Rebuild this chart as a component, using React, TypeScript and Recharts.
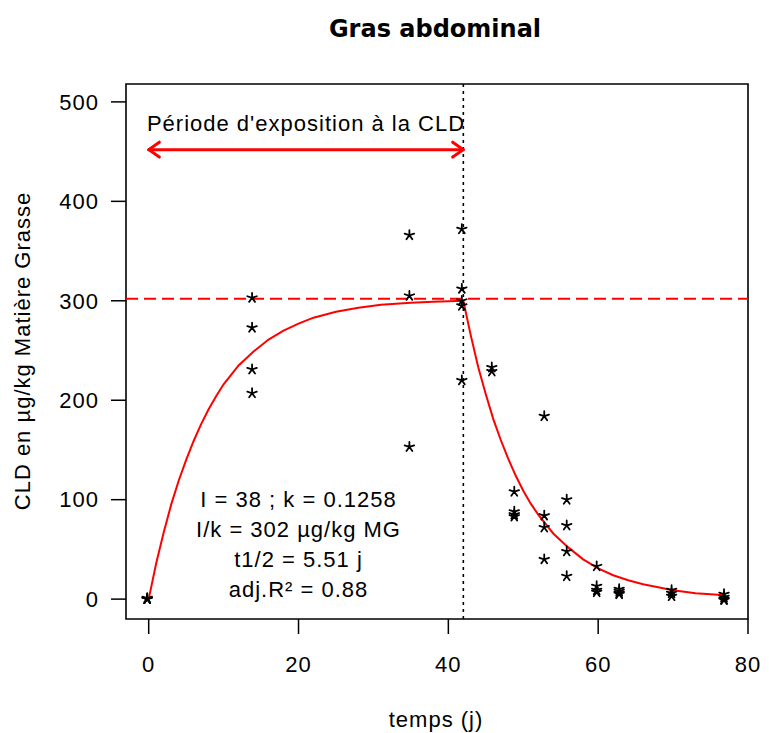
import React from "react";
import {
  ComposedChart,
  Line,
  Scatter,
  XAxis,
  YAxis,
  ReferenceLine,
  ReferenceArea,
  ReferenceDot,
} from "recharts";

// ---- Data ----
const curveT = [0, 1, 2, 3, 4, 5, 6, 7, 8, 9, 10, 12, 14, 16, 18, 20, 22, 25, 28, 31, 35, 38, 42, 43, 44, 45, 46, 47, 48, 49, 50, 51, 52, 54, 56, 58, 60, 62, 64, 66, 68, 70, 73, 77];
const curveCLD = [0, 36, 67, 95, 119, 140, 159, 176, 191, 204, 216, 235, 249, 261, 270, 277, 283, 289, 293, 296, 298, 299, 300, 265, 233, 206, 181, 160, 141, 124, 109, 96, 85, 66, 52, 40, 31, 24, 19, 15, 12, 9, 6, 4];

const obsDay = [
  0, 0, 0, 0,
  14, 14, 14, 14,
  35, 35, 35,
  42, 42, 42, 42, 42,
  46, 46,
  49, 49, 49, 49,
  53, 53, 53, 53,
  56, 56, 56, 56,
  60, 60, 60, 60,
  63, 63, 63, 63,
  70, 70, 70,
  77, 77, 77, 77,
];
const obsCLD = [
  0, 0, 1, 0,
  303, 273, 231, 207,
  366, 305, 153,
  372, 312, 300, 295, 220,
  233, 229,
  108, 88, 85, 83,
  184, 84, 72, 40,
  100, 74, 48, 23,
  33, 13, 9, 7,
  10, 8, 6, 5,
  9, 6, 3,
  5, 2, 0, -1,
];

const xTicks = [0, 20, 40, 60, 80];
const yTicks = [0, 100, 200, 300, 400, 500];
const xDomain: [number, number] = [-3.03, 80];
const yDomain: [number, number] = [-20, 518];
const plateauLevel = 302;
const exposureStart = 0;
const exposureEnd = 42;
const arrowLevel = 452;
const exposureLabel = "Période d'exposition à la CLD";
const exposureLabelPos = { x: 21, y: 478 };
const statsLines = ["I = 38 ; k = 0.1258", "I/k = 302 µg/kg MG", "t1/2 = 5.51 j", "adj.R² = 0.88"];
const statsX = 20;
const statsY = [100, 70, 40, 10];

const curveData = curveT.map((t, i) => ({ x: t, y: curveCLD[i] }));
const obsData = obsDay.map((d, i) => ({ x: d, y: obsCLD[i] }));

const FONT = "'Liberation Sans', Arial, sans-serif";
const txtStyle: React.CSSProperties = { fontFamily: FONT, fontSize: 22, letterSpacing: 1 };

const Star = (props: any) => {
  const { cx, cy } = props;
  if (cx == null || cy == null) return null;
  const c = cx - 1.5;
  const L = 5;
  let d = "";
  for (let k = 0; k < 5; k++) {
    const a = (-90 + k * 72) * (Math.PI / 180);
    d += `M${c},${cy}L${c + L * Math.cos(a)},${cy + L * Math.sin(a)}`;
  }
  return <path d={d} stroke="#000" strokeWidth={1.8} fill="none" strokeLinecap="round" />;
};

const ArrowShape = (props: any) => {
  const { x1, y1, x2, y2 } = props;
  if (x1 == null) return null;
  const len = 13;
  const ang = (35 * Math.PI) / 180;
  const dx = len * Math.cos(ang);
  const dy = len * Math.sin(ang);
  return (
    <g stroke="#ff0000" strokeWidth={3} fill="none" strokeLinecap="round" strokeLinejoin="round">
      <line x1={x1} y1={y1} x2={x2} y2={y2} />
      <polyline points={`${x1 + dx},${y1 - dy} ${x1},${y1} ${x1 + dx},${y1 + dy}`} />
      <polyline points={`${x2 - dx},${y2 - dy} ${x2},${y2} ${x2 - dx},${y2 + dy}`} />
    </g>
  );
};

const makeTextShape = (label: string) => (props: any) => {
  const { cx, cy } = props;
  if (cx == null) return null;
  return (
    <text x={cx} y={cy} textAnchor="middle" dominantBaseline="central" fill="#000" style={txtStyle}>
      {label}
    </text>
  );
};

export default function App() {
  return (
    <div style={{ position: "absolute", left: 0, top: 0, width: 769, height: 733, background: "#fff" }}>
      <svg width={769} height={733} style={{ position: "absolute", left: 0, top: 0 }}>
        <text x={435} y={37} textAnchor="middle" style={{ fontFamily: "'DejaVu Sans', sans-serif", fontWeight: "bold", fontSize: 24 }}>
          Gras abdominal
        </text>
        <text x={436} y={727} textAnchor="middle" style={txtStyle}>
          temps (j)
        </text>
        <text x={30} y={351} textAnchor="middle" transform="rotate(-90 30 351)" style={txtStyle}>
          CLD en µg/kg Matière Grasse
        </text>
      </svg>
      <div style={{ position: "absolute", left: 0, top: 0 }}>
        <ComposedChart width={769} height={733} margin={{ top: 84, right: 21, bottom: 54, left: 66 }}>
          <XAxis
            type="number"
            dataKey="x"
            domain={xDomain}
            allowDataOverflow
            ticks={xTicks}
            interval={0}
            axisLine={false}
            tickSize={15}
            tickMargin={22}
            tickLine={{ stroke: "#000", strokeWidth: 1.5 }}
            tick={{ fill: "#000", style: txtStyle } as any}
            height={60}
          />
          <YAxis
            type="number"
            dataKey="y"
            domain={yDomain}
            allowDataOverflow
            ticks={yTicks}
            interval={0}
            axisLine={false}
            tickSize={15}
            tickMargin={12}
            tickLine={{ stroke: "#000", strokeWidth: 1.5 }}
            tick={{ fill: "#000", style: txtStyle } as any}
            width={60}
          />
          <ReferenceLine y={plateauLevel} stroke="#ff0000" strokeWidth={2} strokeDasharray="12 6" />
          <ReferenceLine x={exposureEnd} stroke="#000" strokeWidth={1.6} strokeDasharray="3 4" />
          <Line
            data={curveData}
            dataKey="y"
            type="linear"
            stroke="#ff0000"
            strokeWidth={2}
            dot={false}
            activeDot={false}
            isAnimationActive={false}
          />
          <Scatter data={obsData} dataKey="y" shape={Star} isAnimationActive={false} />
          <ReferenceLine
            segment={[
              { x: exposureStart, y: arrowLevel },
              { x: exposureEnd, y: arrowLevel },
            ]}
            shape={ArrowShape}
          />
          <ReferenceDot x={exposureLabelPos.x} y={exposureLabelPos.y} r={0} shape={makeTextShape(exposureLabel)} />
          {statsLines.map((s, i) => (
            <ReferenceDot key={i} x={statsX} y={statsY[i]} r={0} shape={makeTextShape(s)} />
          ))}
          <ReferenceArea
            x1={xDomain[0]}
            x2={xDomain[1]}
            y1={yDomain[0]}
            y2={yDomain[1]}
            fill="none"
            fillOpacity={0}
            stroke="#000"
            strokeWidth={1.6}
          />
        </ComposedChart>
      </div>
    </div>
  );
}
